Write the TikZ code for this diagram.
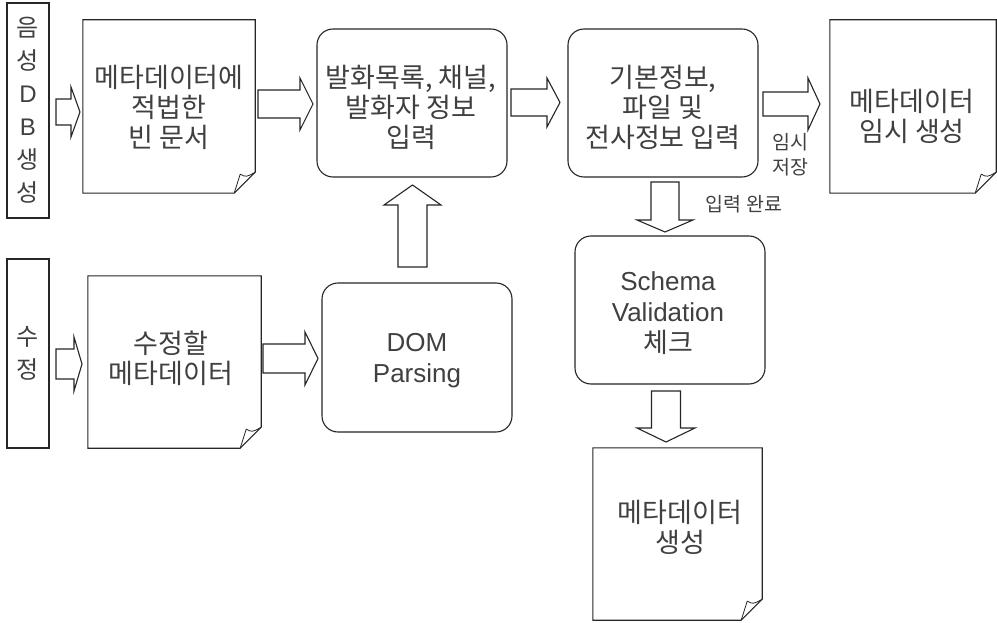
\documentclass[tikz,border=0pt]{standalone}
\usepackage{fontspec}
\setmainfont{Liberation Sans}
\newfontfamily\kr{Noto Sans CJK KR}
\usetikzlibrary{calc}
\tikzset{
  ln/.style={draw=black!85, line width=1.1pt},
  sidebox/.style={ln, minimum width=42pt, inner sep=0pt, align=center, text=black!75,
    font=\kr\fontsize{24}{33}\selectfont},
  docbox/.style={inner sep=0pt},
  rbox/.style={ln, rounded corners=16pt, inner sep=0pt},
  lbl/.style={inner sep=0pt, align=center, text=black!75, font=\kr\fontsize{27}{30}\selectfont},
  small/.style={inner sep=0pt, align=center, text=black!75, font=\kr\fontsize{19.5}{25}\selectfont},
  blk/.style={ln, fill=white, line join=miter},
}
\newcommand\docoutline[1]{%
  \draw[ln] (#1.north west) -- (#1.north east) -- ([yshift=21pt]#1.south east)
    -- ([xshift=-21pt]#1.south east) -- (#1.south west) -- cycle;
  \draw[ln, line width=0.8pt] ([xshift=-21pt]#1.south east) -- ([xshift=-15pt,yshift=19pt]#1.south east)
    .. controls ([xshift=-9pt,yshift=16pt]#1.south east) .. ([yshift=21pt]#1.south east);
}
% horizontal block arrow: x-start, head-start, tip, y-centre, shaft half, head half
\newcommand\rarr[6]{%
  \draw[blk] (#1,{#4-#5}) -- (#2,{#4-#5}) -- (#2,{#4-#6}) -- (#3,#4)
    -- (#2,{#4+#6}) -- (#2,{#4+#5}) -- (#1,{#4+#5}) -- cycle;}
% vertical block arrow: y-start, head-start, tip, x-centre, shaft half, head half
\newcommand\varr[6]{%
  \draw[blk] ({#4-#5},#1) -- ({#4-#5},#2) -- ({#4-#6},#2) -- (#4,#3)
    -- ({#4+#6},#2) -- ({#4+#5},#2) -- ({#4+#5},#1) -- cycle;}
\begin{document}
\begin{tikzpicture}[x=1pt,y=-1pt]
\useasboundingbox[fill=white] (0,0) rectangle (997,623);

% side labels
\node[sidebox, minimum height=215pt] (src1) at (28,110.5) {음\\성\\{\rmfamily D}\\{\rmfamily B}\\생\\성};
\node[sidebox, minimum height=189pt] (src2) at (28,353.5) {수\\정};

% documents
\node[docbox, minimum width=172pt, minimum height=173pt] (doc1) at (169,106.5) {};
\docoutline{doc1}
\node[lbl] (doc1t) at (169,107.5) {메타데이터에\\적법한\\빈 문서};

\node[docbox, minimum width=166pt, minimum height=173pt] (doc4) at (913,106.5) {};
\docoutline{doc4}
\node[lbl] (doc4t) at (912,116) {메타데이터\\임시 생성};

\node[docbox, minimum width=169pt, minimum height=172pt] (doc5) at (677.5,534) {};
\docoutline{doc5}
\node[lbl] (doc5t) at (680,527) {메타데이터\\생성};

\node[docbox, minimum width=173pt, minimum height=172pt] (doc6) at (174.5,362) {};
\docoutline{doc6}
\node[lbl] (doc6t) at (171,358) {수정할\\메타데이터};

% rounded process boxes
\node[rbox, minimum width=190pt, minimum height=148pt] (box2) at (412,103) {};
\node[lbl] (box2t) at (411,107.5) {발화목록, 채널,\\발화자 정보\\입력};
\node[rbox, minimum width=190pt, minimum height=148pt] (box3) at (663,103) {};
\node[lbl] (box3t) at (663,107.5) {기본정보,\\파일 및\\전사정보 입력};
\node[rbox, minimum width=190pt, minimum height=148pt] (box4) at (670,310) {};
\node[lbl, font=\fontsize{26}{31}\selectfont] (box4t) at (668,313) {Schema\\Validation\\{\kr\fontsize{27}{31}\selectfont 체크}};
\node[rbox, minimum width=190pt, minimum height=149pt] (dom) at (417,357.5) {};
\node[lbl, font=\fontsize{26}{31}\selectfont] (domt) at (417,360.5) {DOM\\Parsing};

% small labels
\node[small] (tmp) at (790,155) {임시\\저장};
\node[small] (done) at (744,204) {입력 완료};

% block arrows
\rarr{56}{71}{80}{112}{13}{25}
\rarr{56}{74}{82}{364}{15}{27}
\rarr{258}{300}{313}{104}{14}{26}
\rarr{511}{547}{560}{102.5}{13.5}{24.5}
\rarr{763}{808}{820}{104}{12}{26}
\rarr{263}{305}{318}{358.5}{14.5}{26.5}
\varr{182}{220}{232}{665}{14}{28}
\varr{391}{428}{442}{666}{14.5}{29}
\varr{267}{205}{185}{412.5}{14.5}{28.5}
\end{tikzpicture}
\end{document}
